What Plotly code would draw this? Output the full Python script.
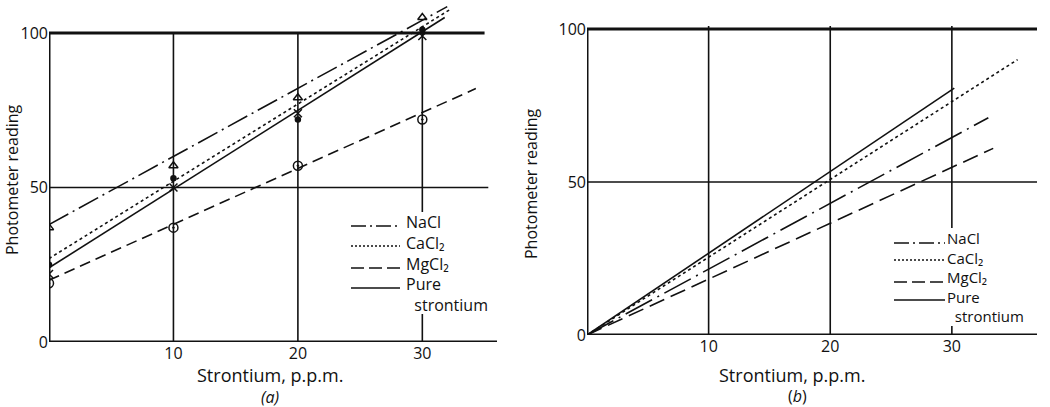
import plotly.graph_objects as go

# ---------------- data ----------------
conc = [0, 10, 20, 30]
keys = ["NaCl", "CaCl2", "MgCl2", "Pure"]
labels = ["NaCl", "CaCl\u2082", "MgCl\u2082", "Pure"]
label_extra = "\u00a0\u00a0strontium"

# panel (a) measured points
a_nacl = [37, 57, 79, 105]
a_cacl2 = [25, 53, 72, 101]
a_mgcl2 = [19, 37, 57, 72]
a_pure = [22, 50, 74, 99]

# panel (a) fitted lines: [start, end]
a_fit_x = {"NaCl": [0, 32.0], "CaCl2": [0, 32.2], "MgCl2": [0, 34.3], "Pure": [0, 31.8]}
a_fit_y = {"NaCl": [38, 108.5], "CaCl2": [27, 107.5], "MgCl2": [20, 82], "Pure": [24, 105]}

# panel (b) fitted lines through origin
b_fit_x = {"NaCl": [0, 33.0], "CaCl2": [0, 35.4], "MgCl2": [0, 33.4], "Pure": [0, 30.2]}
b_fit_y = {"NaCl": [0, 71], "CaCl2": [0, 90], "MgCl2": [0, 61], "Pure": [0, 80.7]}

x_ticks = [10, 20, 30]
y_ticks = [0, 50, 100]

FONT = "Open Sans"
INK = "#111111"

dash_a = {"NaCl": "22px,5px,2px,5px", "CaCl2": "3px,3px", "MgCl2": "11px,6px", "Pure": "solid"}
dash_b = {"NaCl": "30px,6px,2px,6px", "CaCl2": "3px,3px", "MgCl2": "16px,7px", "Pure": "solid"}
dash_leg = {"NaCl": "15px,4px,2px,4px", "CaCl2": "2px,2px", "MgCl2": "13px,5px", "Pure": "solid"}

fig = go.Figure()

# ---- panel (a) lines ----
for k, name in zip(keys, labels):
    fig.add_trace(go.Scatter(
        x=a_fit_x[k], y=a_fit_y[k], mode="lines", name=name, showlegend=False,
        line=dict(color=INK, width=1.6, dash=dash_a[k]), xaxis="x", yaxis="y"))

# ---- panel (a) markers ----
marker_specs = [
    (a_nacl, "triangle-up-open", 8),
    (a_cacl2, "circle", 5),
    (a_mgcl2, "circle-open-dot", 9),
    (a_pure, "x-thin-open", 8),
]
for vals, sym, sz in marker_specs:
    fig.add_trace(go.Scatter(
        x=conc, y=vals, mode="markers", showlegend=False,
        marker=dict(symbol=sym, size=sz, color=INK, line=dict(color=INK, width=1.5)),
        xaxis="x", yaxis="y"))

# ---- panel (b) lines ----
for k, name in zip(keys, labels):
    fig.add_trace(go.Scatter(
        x=b_fit_x[k], y=b_fit_y[k], mode="lines", name=name, showlegend=False,
        line=dict(color=INK, width=1.6, dash=dash_b[k]), xaxis="x2", yaxis="y2"))

W, H = 1050, 407
def px(v):
    return v / W
def py(v):
    return (H - v) / H

# ---- frame and grid (shapes in data coordinates) ----
shapes = []
def seg(xr, yr, x0, x1, y0, y1, w, dash="solid", layer="below"):
    shapes.append(dict(type="line", xref=xr, yref=yr, x0=x0, x1=x1, y0=y0, y1=y1,
                       line=dict(color=INK, width=w, dash=dash), layer=layer))

# panel (a)
seg("x", "y", 0, 0, 0, 100, 3)
seg("x", "y", 0, 36, 0, 0, 3)
seg("x", "y", 0, 35, 100, 100, 3)
seg("x", "y", 0, 35.3, 50, 50, 1.5)
for xv in x_ticks:
    seg("x", "y", xv, xv, 0, 100, 1.6)
# panel (b)
seg("x2", "y2", 0, 0, 0, 100, 3)
seg("x2", "y2", 0, 37, 0, 0, 3)
seg("x2", "y2", 0, 37, 100, 100, 3)
seg("x2", "y2", 0, 37, 50, 50, 1.5)
for xv in x_ticks:
    seg("x2", "y2", xv, xv, 0, 101, 1.6)

annotations = []
def text(t, x, y, size, xanchor="center", angle=0, align="center"):
    annotations.append(dict(text=t, x=px(x), y=py(y), xref="paper", yref="paper",
                            xanchor=xanchor, yanchor="middle", textangle=angle,
                            align=align, showarrow=False,
                            font=dict(family=FONT, size=size, color=INK)))

# ---- hand-placed legends (white box, key lines, one multi-line label block) ----
legend_boxes = [
    # (box x0, x1, y0, y1, sample x0, x1, sample ys, text x, text centre y, font)
    (345, 496, 212, 314, 351, 400, [226, 246, 268, 288], 404, 263, 16),
    (886, 1040, 228, 326, 894, 945, [243, 260, 282, 300], 945, 277, 15),
]
for bx0, bx1, by0, by1, sx0, sx1, sys_, tx, tyc, fs in legend_boxes:
    shapes.append(dict(type="rect", xref="paper", yref="paper",
                       x0=px(bx0), x1=px(bx1), y0=py(by1), y1=py(by0),
                       fillcolor="white", line=dict(width=0), layer="above"))
    for k, sy in zip(keys, sys_):
        seg("paper", "paper", px(sx0), px(sx1), py(sy), py(sy), 1.6,
            dash=dash_leg[k], layer="above")
    text("<br>".join(labels + [label_extra]), tx, tyc, fs, xanchor="left", align="left")

# ---- axis titles and panel captions ----
text("Photometer reading", 12, 180, 16, angle=-90)
text("Photometer reading", 531, 184, 16, angle=-90)
text("Strontium, p.p.m.", 270, 375, 18)
text("Strontium, p.p.m.", 792, 375, 18)
text("<i>(a)</i>", 270, 397, 16)
text("(<i>b</i>)", 797, 396, 16)

axis_common = dict(showgrid=False, zeroline=False, showline=False, ticks="",
                   automargin=False,
                   tickfont=dict(family=FONT, size=16, color=INK))

fig.update_layout(
    width=W, height=H, margin=dict(l=0, r=0, t=0, b=0, autoexpand=False),
    paper_bgcolor="white", plot_bgcolor="white",
    xaxis=dict(domain=[px(49), px(497)], range=[0, 36], tickvals=x_ticks,
               anchor="y", **axis_common),
    yaxis=dict(domain=[py(342), py(2)], range=[0, 110], tickvals=y_ticks,
               anchor="x", **axis_common),
    xaxis2=dict(domain=[px(587), px(1037)], range=[0, 37], tickvals=x_ticks,
                anchor="y2", **axis_common),
    yaxis2=dict(domain=[py(335), py(1.5)], range=[0, 109], tickvals=y_ticks,
                anchor="x2", **axis_common),
    shapes=shapes,
    annotations=annotations,
    showlegend=False,
)

fig.write_html("out.html")
